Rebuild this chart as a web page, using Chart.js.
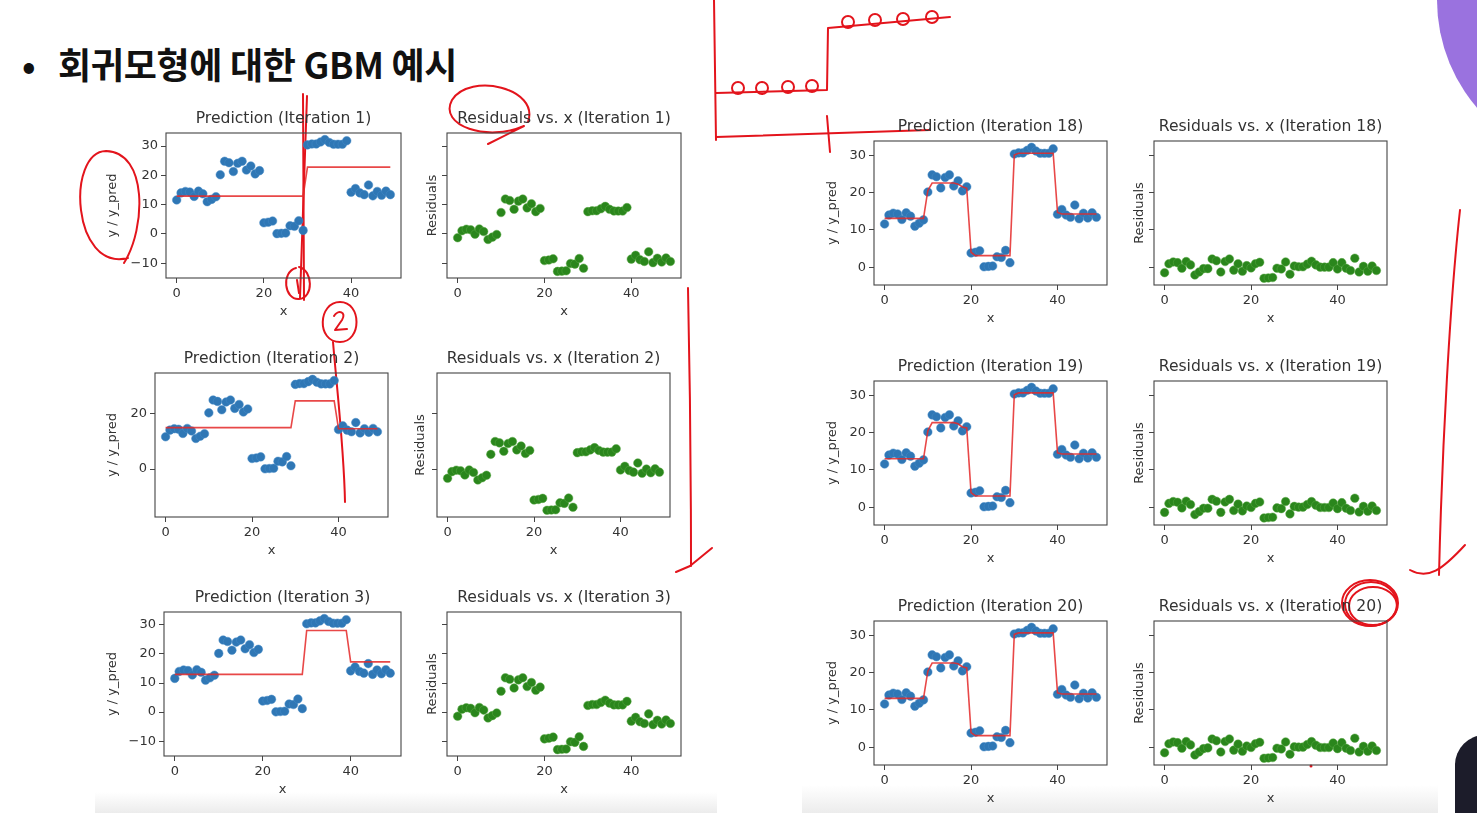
<!DOCTYPE html>
<html>
<head>
<meta charset="utf-8">
<script src="https://cdn.jsdelivr.net/npm/chart.js@4.4.0/dist/chart.umd.min.js"></script>
<style>
html, body { margin: 0; padding: 0; background: #fff; }
body { width: 1477px; height: 813px; overflow: hidden; position: relative; }
canvas.panel { position: absolute; }
#heading { position: absolute; left: 22px; top: 37px; font-family: "Noto Sans CJK KR", sans-serif; font-weight: 700; font-size: 36px; color: #111; letter-spacing: -0.3px; white-space: nowrap; }
#heading .dot { display: inline-block; width: 36px; }
.shade { position: absolute; background: linear-gradient(#ffffff, #ececec); }
#purple { position: absolute; left: 1437px; top: -165px; width: 330px; height: 330px; border-radius: 50%; background: #9a72df; }
#person { position: absolute; left: 1455px; top: 735px; width: 60px; height: 120px; border-radius: 30px 0 0 0; background: #1c1c2a; }
#marks { position: absolute; left: 0; top: 0; pointer-events: none; }
</style>
</head>
<body>
<div class="shade" style="left:95px;top:792px;width:622px;height:21px"></div>
<div class="shade" style="left:802px;top:785px;width:636px;height:28px"></div>
<div id="purple"></div>
<div id="person"></div>
<div id="heading"><span class="dot">•</span>회귀모형에 대한 GBM 예시</div>

<svg id="marks" width="1477" height="813" viewBox="0 0 1477 813">
  <g fill="none" stroke="#e3141c" stroke-width="2" stroke-linecap="round" stroke-linejoin="round">
    <!-- circle round the y label of iteration 1 -->
    <path d="M128 258 C 72 272, 66 152, 106 151 C 148 152, 146 228, 124 263"/>
    <!-- vertical cut at x=30 -->
    <path d="M303 94 L304 300"/>
    <path d="M307 96 L300 298"/>
    <path d="M296 268 C 281 272, 284 300, 299 299 C 314 298, 313 270, 299 267"/>
    <path d="M297 280 L299 293"/>
    <!-- circle on Residuals -->
    <path d="M528 122 C 540 88, 470 72, 452 100 C 438 126, 488 142, 524 126 L 488 144"/>
    <!-- circled 2 and its cut -->
    <path d="M340 302 C 318 302, 316 342, 340 342 C 362 342, 362 302, 340 302"/>
    <path d="M334 316 C 338 309, 347 312, 342 320 L 335 330 L 347 329"/>
    <path d="M333 342 C 338 400, 344 450, 345 502"/>
    <!-- arrow down, left column -->
    <path d="M688 288 C 690 380, 691 470, 691 566"/>
    <path d="M676 572 L 690 566 L 712 548"/>
    <!-- step sketch at the top -->
    <path d="M714 0 L 716 140"/>
    <path d="M716 137 L 930 130"/>
    <path d="M827 116 L 830 152"/>
    <path d="M716 93 L 827 90 L 828 28 L 950 17"/>
    <circle cx="738" cy="88" r="6"/>
    <circle cx="762" cy="88" r="6"/>
    <circle cx="788" cy="87" r="6"/>
    <circle cx="812" cy="86" r="6"/>
    <circle cx="848" cy="22" r="6"/>
    <circle cx="875" cy="20" r="6"/>
    <circle cx="903" cy="19" r="6"/>
    <circle cx="932" cy="17" r="6"/>
    <!-- arrow down, right column -->
    <path d="M1460 210 C 1450 300, 1442 450, 1439 575"/>
    <path d="M1410 570 C 1428 580, 1442 570, 1465 545"/>
    <!-- circle on 20) -->
    <ellipse cx="1371" cy="604" rx="26" ry="22"/>
    <ellipse cx="1373" cy="606" rx="24" ry="19"/>
    <ellipse cx="1370" cy="603" rx="28" ry="23"/>
  </g>
  <circle cx="1311" cy="766" r="1.5" fill="#e3141c"/>
</svg>

<script>
// x positions and the observed target
const xVals = [0,1,2,3,4,5,6,7,8,9,10,11,12,13,14,15,16,17,18,19,20,21,22,23,24,25,26,27,28,29,30,31,32,33,34,35,36,37,38,39,40,41,42,43,44,45,46,47,48,49];
const yObs = [11.6,14.0,14.5,14.3,12.8,14.6,13.7,11.0,11.8,12.7,
  20.2,24.8,24.3,21.3,24.1,24.8,21.8,23.2,20.5,21.6,
  3.8,4.0,4.4,0.1,0.2,0.3,2.8,2.6,4.5,1.2,
  30.4,30.7,30.7,31.4,32.2,31.2,30.6,30.6,30.6,31.8,
  14.2,15.5,14.0,13.4,16.7,13.0,14.5,13.2,14.6,13.4];

// model prediction after each iteration
const predIter1 = [12.9,12.9,12.9,12.9,12.9,12.9,12.9,12.9,12.9,12.9,
  12.9,12.9,12.9,12.9,12.9,12.9,12.9,12.9,12.9,12.9,
  12.9,12.9,12.9,12.9,12.9,12.9,12.9,12.9,12.9,12.9,
  22.8,22.8,22.8,22.8,22.8,22.8,22.8,22.8,22.8,22.8,
  22.8,22.8,22.8,22.8,22.8,22.8,22.8,22.8,22.8,22.8];
const predIter2 = [14.9,14.9,14.9,14.9,14.9,14.9,14.9,14.9,14.9,14.9,
  14.9,14.9,14.9,14.9,14.9,14.9,14.9,14.9,14.9,14.9,
  14.9,14.9,14.9,14.9,14.9,14.9,14.9,14.9,14.9,14.9,
  24.5,24.5,24.5,24.5,24.5,24.5,24.5,24.5,24.5,24.5,
  14.5,14.5,14.5,14.5,14.5,14.5,14.5,14.5,14.5,14.5];
const predIter3 = [13.0,13.0,13.0,13.0,13.0,13.0,13.0,13.0,13.0,13.0,
  13.0,13.0,13.0,13.0,13.0,13.0,13.0,13.0,13.0,13.0,
  13.0,13.0,13.0,13.0,13.0,13.0,13.0,13.0,13.0,13.0,
  28.1,28.1,28.1,28.1,28.1,28.1,28.1,28.1,28.1,28.1,
  17.3,17.3,17.3,17.3,17.3,17.3,17.3,17.3,17.3,17.3];
const predIter18 = [13.1,13.1,13.1,13.1,13.1,13.1,13.1,13.1,13.1,13.1,
  20.6,22.6,22.6,22.6,22.6,22.6,22.6,22.3,21.6,21.2,
  4.0,3.1,3.1,3.1,3.1,3.1,3.1,3.1,3.1,3.1,
  30.1,30.6,30.6,30.6,30.6,30.6,30.6,30.6,30.6,30.6,
  14.7,14.3,14.3,14.3,14.3,14.3,14.3,14.3,14.3,14.3];
const predIter19 = [13.0,13.0,13.0,13.0,13.0,13.0,13.0,13.0,13.0,13.0,
  20.5,22.7,22.7,22.7,22.7,22.7,22.7,22.4,21.5,21.3,
  3.9,3.0,3.0,3.0,3.0,3.0,3.0,3.0,3.0,3.0,
  30.2,30.7,30.7,30.7,30.7,30.7,30.7,30.7,30.7,30.7,
  14.6,14.3,14.3,14.3,14.3,14.3,14.3,14.3,14.3,14.3];
const predIter20 = [13.1,13.1,13.1,13.1,13.1,13.1,13.1,13.1,13.1,13.1,
  20.4,22.6,22.6,22.6,22.6,22.6,22.6,22.4,21.6,21.3,
  3.9,3.1,3.1,3.1,3.1,3.1,3.1,3.1,3.1,3.1,
  30.3,30.7,30.7,30.7,30.7,30.7,30.7,30.7,30.7,30.7,
  14.6,14.3,14.3,14.3,14.3,14.3,14.3,14.3,14.3,14.3];

// residuals
const resIter1 = [-1.3,1.1,1.6,1.4,-0.1,1.7,0.8,-1.9,-1.1,-0.2,
  7.3,11.9,11.4,8.4,11.2,11.9,8.9,10.3,7.6,8.7,
  -9.1,-8.9,-8.5,-12.8,-12.7,-12.6,-10.1,-10.3,-8.4,-11.7,
  7.6,7.9,7.9,8.6,9.4,8.4,7.8,7.8,7.8,9.0,
  -8.6,-7.3,-8.8,-9.4,-6.1,-9.8,-8.3,-9.6,-8.2,-9.4];
const resIter2 = [-3.3,-0.9,-0.4,-0.6,-2.1,-0.3,-1.2,-3.9,-3.1,-2.2,
  5.3,9.9,9.4,6.4,9.2,9.9,6.9,8.3,5.6,6.7,
  -11.1,-10.9,-10.5,-14.8,-14.7,-14.6,-12.1,-12.3,-10.4,-13.7,
  5.9,6.2,6.2,6.9,7.7,6.7,6.1,6.1,6.1,7.3,
  -0.3,1.0,-0.5,-1.1,2.2,-1.5,0.0,-1.3,0.1,-1.1];
const resIter3 = [-1.4,1.0,1.5,1.3,-0.2,1.6,0.7,-2.0,-1.2,-0.3,
  7.2,11.8,11.3,8.3,11.1,11.8,8.8,10.2,7.5,8.6,
  -9.2,-9.0,-8.6,-12.9,-12.8,-12.7,-10.2,-10.4,-8.5,-11.8,
  2.3,2.6,2.6,3.3,4.1,3.1,2.5,2.5,2.5,3.7,
  -3.1,-1.8,-3.3,-3.9,-0.6,-4.3,-2.8,-4.1,-2.7,-3.9];
const resIter18 = [-1.5,0.9,1.4,1.2,-0.3,1.5,0.6,-2.1,-1.3,-0.4,
  -0.4,2.2,1.7,-1.3,1.5,2.2,-0.8,0.9,-1.1,0.4,
  -0.2,0.9,1.3,-3.0,-2.9,-2.8,-0.3,-0.5,1.4,-1.9,
  0.3,0.1,0.1,0.8,1.6,0.6,0.0,0.0,0.0,1.2,
  -0.5,1.2,-0.3,-0.9,2.4,-1.3,0.2,-1.1,0.3,-0.9];
const resIter19 = [-1.4,1.0,1.5,1.3,-0.2,1.6,0.7,-2.0,-1.2,-0.3,
  -0.3,2.1,1.6,-1.4,1.4,2.1,-0.9,0.8,-1.0,0.3,
  -0.1,1.0,1.4,-2.9,-2.8,-2.7,-0.2,-0.4,1.5,-1.8,
  0.2,0.0,0.0,0.7,1.5,0.5,-0.1,-0.1,-0.1,1.1,
  -0.4,1.2,-0.3,-0.9,2.4,-1.3,0.2,-1.1,0.3,-0.9];
const resIter20 = [-1.5,0.9,1.4,1.2,-0.3,1.5,0.6,-2.1,-1.3,-0.4,
  -0.2,2.2,1.7,-1.3,1.5,2.2,-0.8,0.8,-1.1,0.3,
  -0.1,0.9,1.3,-3.0,-2.9,-2.8,-0.3,-0.5,1.4,-1.9,
  0.1,0.0,0.0,0.7,1.5,0.5,-0.1,-0.1,-0.1,1.1,
  -0.4,1.2,-0.3,-0.9,2.4,-1.3,0.2,-1.1,0.3,-0.9];

const iterations = ['1', '2', '3', '18', '19', '20'];
const predictions = [predIter1, predIter2, predIter3, predIter18, predIter19, predIter20];
const residuals = [resIter1, resIter2, resIter3, resIter18, resIter19, resIter20];

// axis limits and ticks (shared per row)
const xLimits = [-2.45, 51.45];
const xTicks = [0, 20, 40];
const yLimits = [[-15.05, 34.45], [-17.2, 34.5], [-15.1, 34.45], [-4.8, 33.9], [-4.8, 33.9], [-4.8, 33.9]];
const yTicks = [[-10, 0, 10, 20, 30], [0, 20], [-10, 0, 10, 20, 30], [0, 10, 20, 30], [0, 10, 20, 30], [0, 10, 20, 30]];

// where each plot box sits on the slide: [left, top, right, bottom, y label centre x]
const predBoxes = [[166,133,401,278,113], [155,373,388,517,113], [164,612,401,756,113],
                   [874,141,1107,285,833], [874,381,1107,525,833], [874,621,1107,765,833]];
const resBoxes = [[447,133,681,278,433], [437,373,670,517,421], [447,612,681,756,433],
                  [1154,141,1387,285,1140], [1154,381,1387,525,1140], [1154,621,1387,765,1140]];

Chart.defaults.font.family = 'DejaVu Sans';
Chart.defaults.color = '#333';

const frame = {
  id: 'frame',
  afterDatasetsDraw(chart) {
    const a = chart.chartArea, ctx = chart.ctx;
    ctx.save();
    ctx.strokeStyle = '#444';
    ctx.lineWidth = 1.1;
    ctx.strokeRect(a.left, a.top, a.right - a.left, a.bottom - a.top);
    ctx.restore();
  }
};

function fmt(v) {
  return v < 0 ? '\u2212' + Math.abs(v) : String(v);
}

function panel(box, title, yTitle, datasets, lim, ticks, showLabels) {
  const [l, t, r, b, labelX] = box;
  const yW = Math.round(l - labelX + 8);
  const topH = 26, xH = 41;
  const cv = document.createElement('canvas');
  cv.className = 'panel';
  cv.width = yW * 2 + (r - l);
  cv.height = topH + (b - t) + xH;
  cv.style.left = (l - yW) + 'px';
  cv.style.top = (t - topH) + 'px';
  document.body.appendChild(cv);

  const tickGrid = { drawOnChartArea: false, drawTicks: true, tickLength: 5, color: '#444', lineWidth: 1 };
  new Chart(cv, {
    type: 'scatter',
    data: { datasets: datasets },
    options: {
      responsive: false,
      animation: false,
      layout: { padding: 0 },
      plugins: {
        legend: { display: false },
        tooltip: { enabled: false },
        title: { display: true, text: title, color: '#333', font: { size: 15.6, weight: 'normal' }, padding: { top: 2.64, bottom: 4.64 } }
      },
      scales: {
        x: {
          type: 'linear', min: xLimits[0], max: xLimits[1],
          afterBuildTicks: s => { s.ticks = xTicks.map(v => ({ value: v })); },
          afterFit: s => { s.height = xH; },
          ticks: { font: { size: 13 }, color: '#333', padding: 3, maxRotation: 0, autoSkip: false, callback: v => fmt(v) },
          grid: tickGrid,
          border: { display: false },
          title: { display: true, text: 'x', color: '#333', font: { size: 13 }, padding: 0 }
        },
        y: {
          type: 'linear', min: lim[0], max: lim[1],
          afterBuildTicks: s => { s.ticks = ticks.map(v => ({ value: v })); },
          afterFit: s => { s.width = yW; },
          ticks: { font: { size: 13 }, color: '#333', padding: 3, autoSkip: false, callback: v => showLabels ? fmt(v) : '' },
          grid: tickGrid,
          border: { display: false },
          title: { display: true, text: yTitle, color: '#333', font: { size: 13 }, padding: 0 }
        },
        // empty axis on the right so the title centres over the plot box
        yPad: {
          type: 'linear', position: 'right', min: 0, max: 1,
          afterFit: s => { s.width = yW; },
          ticks: { display: false },
          grid: { display: false },
          border: { display: false }
        }
      }
    },
    plugins: [frame]
  });
}

iterations.forEach((it, k) => {
  const obsPts = xVals.map((x, i) => ({ x: x, y: yObs[i] }));
  const predPts = xVals.map((x, i) => ({ x: x, y: predictions[k][i] }));
  const resPts = xVals.map((x, i) => ({ x: x, y: residuals[k][i] }));

  panel(predBoxes[k], 'Prediction (Iteration ' + it + ')', 'y / y_pred', [
    { type: 'line', data: predPts, borderColor: 'rgba(228,40,40,0.85)', borderWidth: 1.6, pointRadius: 0, tension: 0, order: 0 },
    { type: 'scatter', data: obsPts, backgroundColor: '#2f77b5', borderColor: 'rgba(70,140,200,0.6)', borderWidth: 0.8, pointRadius: 4.3, order: 1 }
  ], yLimits[k], yTicks[k], true);

  panel(resBoxes[k], 'Residuals vs. x (Iteration ' + it + ')', 'Residuals', [
    { type: 'scatter', data: resPts, backgroundColor: '#2a861c', borderColor: 'rgba(90,170,70,0.6)', borderWidth: 0.8, pointRadius: 4.3 }
  ], yLimits[k], yTicks[k], false);
});
</script>
</body>
</html>
